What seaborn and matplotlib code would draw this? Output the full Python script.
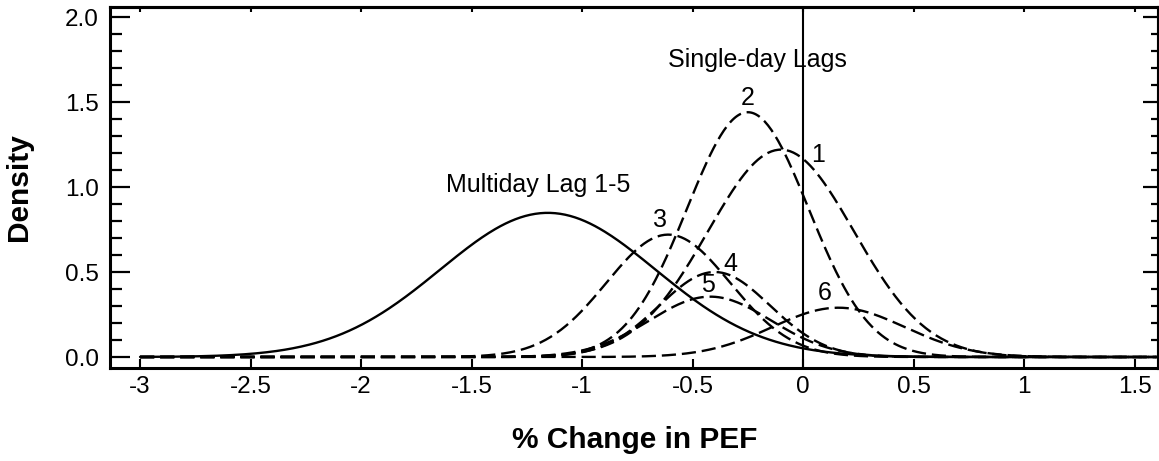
import numpy as np
import pandas as pd
import matplotlib
matplotlib.use('Agg')
import matplotlib.pyplot as plt
import seaborn as sns

## single-day lag curves (centre, spread, peak height)
lag_names = ['1', '2', '3', '4', '5', '6']
lag_centers = [-0.10, -0.25, -0.61, -0.40, -0.42, 0.16]
lag_spreads = [0.33, 0.275, 0.28, 0.25, 0.275, 0.30]
lag_peaks = [1.22, 1.44, 0.72, 0.50, 0.355, 0.29]

# label position of each lag number (x, baseline y)
lag_label_x = [0.068, -0.249, -0.647, -0.33, -0.43, 0.10]
lag_label_y = [1.147, 1.48, 0.765, 0.506, 0.385, 0.335]

## multiday lag 1-5 curve
multi_center = -1.155
multi_spread = 0.487
multi_peak = 0.848

x_ticks = [-3, -2.5, -2, -1.5, -1, -0.5, 0, 0.5, 1, 1.5]
x_tick_labels = ['-3', '-2.5', '-2', '-1.5', '-1', '-0.5', '0', '0.5', '1', '1.5']
y_ticks = [0.0, 0.5, 1.0, 1.5, 2.0]
y_tick_labels = ['0.0', '0.5', '1.0', '1.5', '2.0']

#%%
def bell(x, c, s, h):
    return h * np.exp(-(x - c) ** 2 / (2 * s ** 2))

x_dash = np.linspace(-3, 1.6, 600)
x_solid = np.linspace(-3, 1.5, 600)

rows = []
for name, c, s, h in zip(lag_names, lag_centers, lag_spreads, lag_peaks):
    rows.append(pd.DataFrame({'x': x_dash, 'density': bell(x_dash, c, s, h), 'curve': name}))
lags = pd.concat(rows, ignore_index=True)
multi = pd.DataFrame({'x': x_solid, 'density': bell(x_solid, multi_center, multi_spread, multi_peak)})

#%%
sns.set_style('ticks')
plt.rcParams['font.family'] = ['Liberation Sans', 'DejaVu Sans']
plt.rcParams['text.color'] = 'black'
plt.rcParams['axes.labelcolor'] = 'black'
plt.rcParams['xtick.color'] = 'black'
plt.rcParams['ytick.color'] = 'black'
plt.rcParams['axes.edgecolor'] = 'black'

fig = plt.figure(figsize=(11.59, 4.61), dpi=100)
ax = fig.add_axes([110 / 1159, 1 - 368 / 461, 1048 / 1159, 361 / 461])

for name in lag_names:
    sns.lineplot(data=lags[lags['curve'] == name], x='x', y='density', ax=ax,
                 color='black', lw=1.7, linestyle=(0, (6, 2.5)), estimator=None)
sns.lineplot(data=multi, x='x', y='density', ax=ax, color='black', lw=1.7, estimator=None)
ax.axvline(0, color='black', lw=1.5)

for name, tx, ty in zip(lag_names, lag_label_x, lag_label_y):
    ax.text(tx, ty, name, ha='center', va='baseline', fontsize=18)
ax.text(-0.208, 1.706, 'Single-day Lags', ha='center', va='baseline', fontsize=18)
ax.text(-1.199, 0.97, 'Multiday Lag 1-5', ha='center', va='baseline', fontsize=18)

ax.set_xlim(-3.136, 1.606)
ax.set_ylim(-0.0647, 2.059)
ax.set_xticks(x_ticks)
ax.set_xticklabels(x_tick_labels)
ax.set_yticks(y_ticks)
ax.set_yticklabels(y_tick_labels)
ax.set_yticks(np.arange(0, 2.01, 0.1), minor=True)

ax.tick_params(axis='x', which='major', direction='in', length=6.5, width=1.5,
               labelsize=17.5, pad=6, top=False)
ax.tick_params(axis='y', which='major', direction='in', length=14.4, width=1.6,
               labelsize=17.5, pad=8, right=False)
ax.tick_params(axis='y', which='minor', direction='in', length=8.6, width=1.6, right=False)

# mirrored ticks on top and right
top = ax.secondary_xaxis('top')
top.set_xticks(x_ticks)
top.tick_params(direction='in', length=3.6, width=1.5, labeltop=False)
right = ax.secondary_yaxis('right')
right.set_yticks(y_ticks)
right.set_yticks(np.arange(0, 2.01, 0.1), minor=True)
right.tick_params(which='major', direction='in', length=10.8, width=1.6, labelright=False)
right.tick_params(which='minor', direction='in', length=5, width=1.6)
for sec in (top, right):
    for sp in sec.spines.values():
        sp.set_linewidth(2.2)

for sp in ax.spines.values():
    sp.set_visible(True)
    sp.set_linewidth(2.2)
    sp.set_color('black')

ax.set_xlabel('% Change in PEF', fontsize=21.5, fontweight='bold')
ax.set_ylabel('Density', fontsize=21.5, fontweight='bold')
ax.xaxis.set_label_coords(0.501, -0.16)
ax.yaxis.set_label_coords(-0.0735, 0.5)

fig.savefig('out.png', dpi=100)
